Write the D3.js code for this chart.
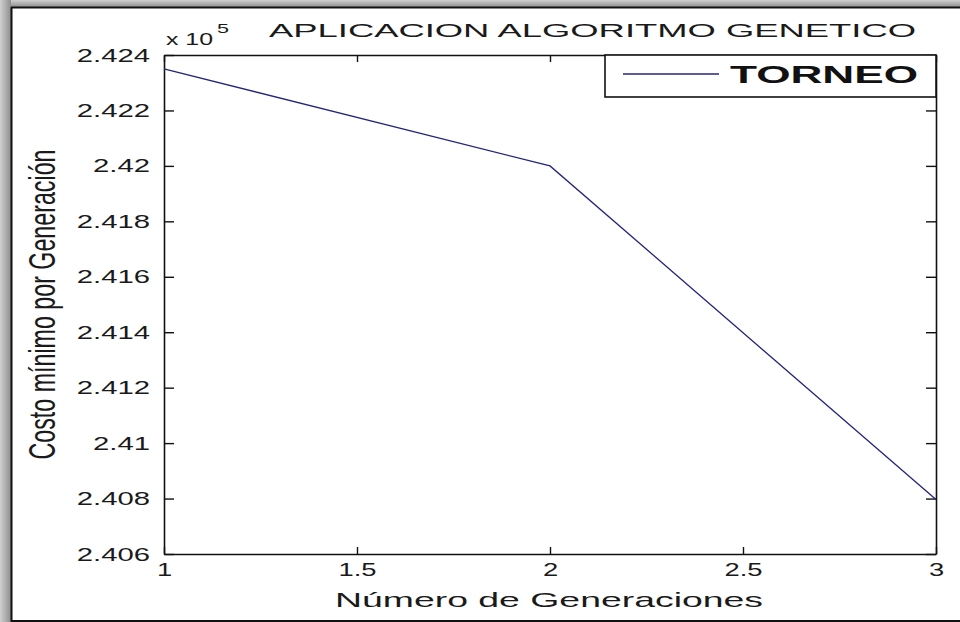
<!DOCTYPE html>
<html>
<head>
<meta charset="utf-8">
<script src="https://cdn.jsdelivr.net/npm/d3@7"></script>
<style>
  html, body { margin: 0; padding: 0; background: #fff; }
  svg { display: block; font-family: "Liberation Sans", Arial, sans-serif; }
</style>
</head>
<body>
<svg id="chart" width="960" height="622"></svg>
<script>
"use strict";

// Data (cost in units of 10^5)
const generations = [1, 2, 3];
const minCost = [2.4235, 2.4200, 2.40797];
const seriesName = "TORNEO";

const xTicks = [1, 1.5, 2, 2.5, 3];
const yTicks = [2.406, 2.408, 2.41, 2.412, 2.414, 2.416, 2.418, 2.42, 2.422, 2.424];

const titleText = "APLICACION ALGORITMO GENETICO";
const xLabelText = "Número de Generaciones";
const yLabelText = "Costo mínimo por Generación";

const svg = d3.select("#chart");
const W = 960, H = 622;

// plot box
const pLeft = 164, pRight = 936, pTop = 55, pBottom = 554;

// --- outer frame (grey shadow + black edge) ---
const defs = svg.append("defs");
const gl = defs.append("linearGradient").attr("id", "shadeL").attr("x1", 0).attr("x2", 1).attr("y1", 0).attr("y2", 0);
gl.append("stop").attr("offset", 0).attr("stop-color", "#d0d0d0");
gl.append("stop").attr("offset", 1).attr("stop-color", "#8e8e8e");
const gt = defs.append("linearGradient").attr("id", "shadeT").attr("x1", 0).attr("x2", 0).attr("y1", 0).attr("y2", 1);
gt.append("stop").attr("offset", 0).attr("stop-color", "#d0d0d0");
gt.append("stop").attr("offset", 1).attr("stop-color", "#8e8e8e");

svg.append("rect").attr("x", 0).attr("y", 0).attr("width", W).attr("height", 7).attr("fill", "url(#shadeT)");
svg.append("rect").attr("x", 0).attr("y", 0).attr("width", 11).attr("height", H).attr("fill", "url(#shadeL)");
svg.append("rect").attr("x", 11).attr("y", 7).attr("width", W - 11).attr("height", H - 7).attr("fill", "#fff");
svg.append("line").attr("x1", 11.5).attr("x2", 11.5).attr("y1", 7).attr("y2", H).attr("stroke", "#111").attr("stroke-width", 2);
svg.append("line").attr("x1", 11).attr("x2", W).attr("y1", 7.5).attr("y2", 7.5).attr("stroke", "#111").attr("stroke-width", 2);
svg.append("line").attr("x1", 11).attr("x2", W).attr("y1", 621).attr("y2", 621).attr("stroke", "#111").attr("stroke-width", 2);

// --- scales ---
const x = d3.scaleLinear().domain([1, 3]).range([pLeft, pRight]);
const y = d3.scaleLinear().domain([2.406, 2.424]).range([pBottom, pTop]);

const fmtY = v => String(+v.toFixed(3));
const fmtX = v => String(v);

// stretch helper: scale text horizontally around its anchor
function stretch(sel, sx) {
  sel.each(function () {
    const t = d3.select(this);
    const tx = +t.attr("x") || 0;
    t.attr("x", tx / sx).attr("transform", `scale(${sx},1)`);
  });
}

// --- axes ---
const axisL = svg.append("g").attr("transform", `translate(${pLeft},0)`)
  .call(d3.axisLeft(y).tickValues(yTicks).tickFormat(fmtY).tickSizeInner(-10).tickSizeOuter(0).tickPadding(14));
const axisR = svg.append("g").attr("transform", `translate(${pRight},0)`)
  .call(d3.axisRight(y).tickValues(yTicks).tickFormat("").tickSizeInner(-10).tickSizeOuter(0));
const axisB = svg.append("g").attr("transform", `translate(0,${pBottom})`)
  .call(d3.axisBottom(x).tickValues(xTicks).tickFormat(fmtX).tickSizeInner(-7).tickSizeOuter(0).tickPadding(9));
const axisT = svg.append("g").attr("transform", `translate(0,${pTop})`)
  .call(d3.axisTop(x).tickValues(xTicks).tickFormat("").tickSizeInner(-7).tickSizeOuter(0));

[axisL, axisR, axisB, axisT].forEach(a => {
  a.select(".domain").attr("stroke", "#111").attr("stroke-width", 1.6);
  a.selectAll(".tick line").attr("stroke", "#111").attr("stroke-width", 1.4);
  a.selectAll("text").attr("fill", "#1a1a1a").style("font-size", "19px").style("font-family", "'Liberation Sans', Arial, sans-serif");
});
stretch(axisL.selectAll(".tick text"), 1.54);
stretch(axisB.selectAll(".tick text"), 1.44);

// --- series line ---
const pts = generations.map((g, i) => [g, minCost[i]]);
svg.append("path")
  .datum(pts)
  .attr("fill", "none")
  .attr("stroke", "#24247c")
  .attr("stroke-width", 1.3)
  .attr("d", d3.line().x(d => x(d[0])).y(d => y(d[1])));

// --- legend ---
const lg = svg.append("g");
lg.append("rect").attr("x", 605).attr("y", pTop).attr("width", pRight - 605).attr("height", 42)
  .attr("fill", "#fff").attr("stroke", "#111").attr("stroke-width", 1.6);
lg.append("line").attr("x1", 623).attr("x2", 719).attr("y1", 74).attr("y2", 74)
  .attr("stroke", "#24247c").attr("stroke-width", 1.3);
lg.append("text").attr("x", 730).attr("y", 83)
  .attr("textLength", 188).attr("lengthAdjust", "spacingAndGlyphs")
  .style("font-size", "24px").style("font-weight", "bold").attr("fill", "#111")
  .text(seriesName);

// --- title, exponent, labels ---
svg.append("text").attr("x", 269).attr("y", 37)
  .attr("textLength", 647).attr("lengthAdjust", "spacingAndGlyphs")
  .style("font-size", "19px").attr("fill", "#1a1a1a").text(titleText);

svg.append("text").attr("x", 166).attr("y", 45)
  .attr("textLength", 47).attr("lengthAdjust", "spacingAndGlyphs")
  .style("font-size", "16px").attr("fill", "#1a1a1a").text("x 10");
svg.append("text").attr("x", 217).attr("y", 33)
  .attr("textLength", 12).attr("lengthAdjust", "spacingAndGlyphs")
  .style("font-size", "13px").attr("fill", "#1a1a1a").text("5");

svg.append("text").attr("x", 335).attr("y", 607)
  .attr("textLength", 428).attr("lengthAdjust", "spacingAndGlyphs")
  .style("font-size", "21px").attr("fill", "#1a1a1a").text(xLabelText);

svg.append("text")
  .attr("transform", `translate(55,${(pTop + pBottom) / 2}) scale(1.71,1) rotate(-90)`)
  .attr("x", -155).attr("y", 0)
  .attr("textLength", 310).attr("lengthAdjust", "spacingAndGlyphs")
  .style("font-size", "22px").attr("fill", "#1a1a1a").text(yLabelText);
</script>
</body>
</html>
